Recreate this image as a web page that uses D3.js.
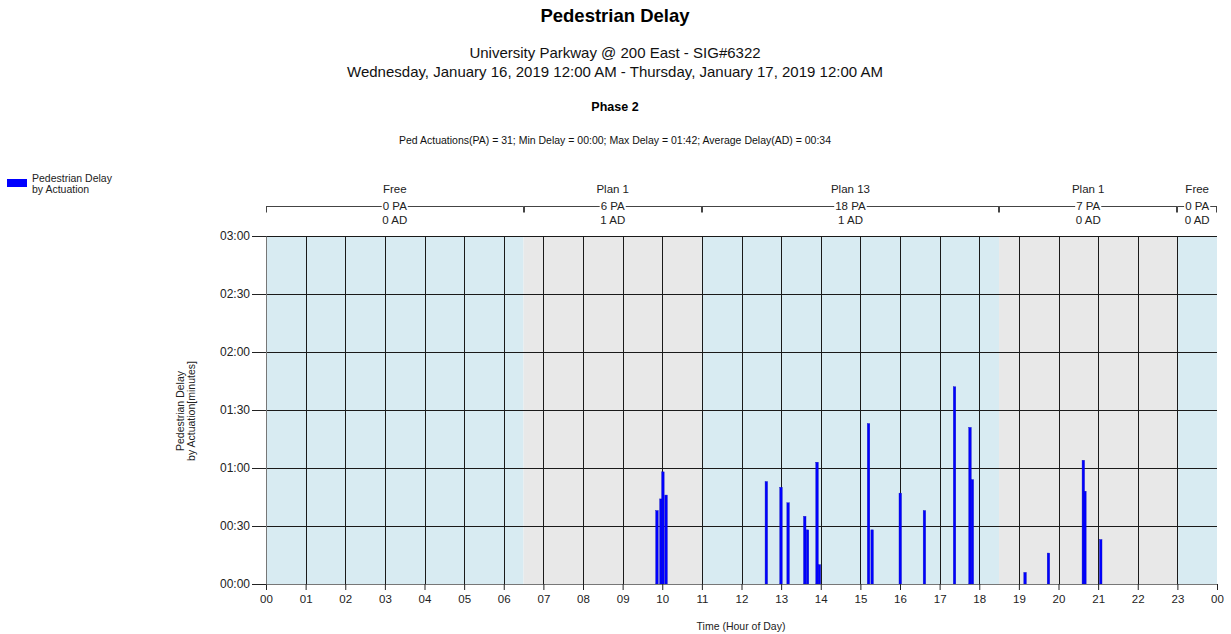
<!DOCTYPE html>
<html><head><meta charset="utf-8">
<script src="https://cdn.jsdelivr.net/npm/d3@7"></script>
<style>body{margin:0;background:#fff;}svg{display:block;font-family:"Liberation Sans",Arial,sans-serif;}</style>
</head><body><svg id="c" width="1231" height="634"></svg>
<script>
// Data
const hours = [9.86, 9.96, 10.01, 10.09, 12.62, 12.99, 13.17, 13.59, 13.66, 13.90, 13.96, 15.20, 15.29, 16.00, 16.61, 17.37, 17.76, 17.82, 19.15, 19.74, 20.62, 20.66, 21.06];
const delays = [38, 44, 58, 46, 53, 50, 42, 35, 28, 63, 10, 83, 28, 47, 38, 102, 81, 54, 6, 16, 64, 48, 23];
const planNames = ["Free", "Plan 1", "Plan 13", "Plan 1", "Free"];
const planStarts = [0, 6.5, 11, 18.5, 23];
const planEnds = [6.5, 11, 18.5, 23, 24];
const planPA = ["0 PA", "6 PA", "18 PA", "7 PA", "0 PA"];
const planAD = ["0 AD", "1 AD", "1 AD", "0 AD", "0 AD"];
const xTickLabels = ["00","01","02","03","04","05","06","07","08","09","10","11","12","13","14","15","16","17","18","19","20","21","22","23","00"];
const yTickLabels = ["00:00","00:30","01:00","01:30","02:00","02:30","03:00"];

const svg = d3.select("#c");
const L = 266, R = 1217, T = 236, B = 584;
const x = d3.scaleLinear().domain([0, 24]).range([L, R]);
const y = d3.scaleLinear().domain([0, 180]).range([B, T]);
const bandColors = ["#d8ebf2", "#e8e8e8"];

// Titles
svg.append("text").attr("x", 615).attr("y", 22).attr("text-anchor", "middle").attr("font-size", 18.5).attr("font-weight", "bold").text("Pedestrian Delay");
svg.append("text").attr("x", 615).attr("y", 58).attr("text-anchor", "middle").attr("font-size", 15).attr("fill", "#111").text("University Parkway @ 200 East - SIG#6322");
svg.append("text").attr("x", 615).attr("y", 77).attr("text-anchor", "middle").attr("font-size", 15).attr("fill", "#111").text("Wednesday, January 16, 2019 12:00 AM - Thursday, January 17, 2019 12:00 AM");
svg.append("text").attr("x", 615).attr("y", 111).attr("text-anchor", "middle").attr("font-size", 12.5).attr("font-weight", "bold").text("Phase 2");
svg.append("text").attr("x", 615).attr("y", 144).attr("text-anchor", "middle").attr("font-size", 10.5).attr("fill", "#111").text("Ped Actuations(PA) = 31; Min Delay = 00:00; Max Delay = 01:42; Average Delay(AD) = 00:34");

// Legend
svg.append("rect").attr("x", 7).attr("y", 179).attr("width", 20).attr("height", 8).attr("fill", "#0000ff");
svg.append("text").attr("x", 32).attr("y", 182).attr("font-size", 10.5).attr("fill", "#222").text("Pedestrian Delay");
svg.append("text").attr("x", 32).attr("y", 193).attr("font-size", 10.5).attr("fill", "#222").text("by Actuation");

// Plan bands
planStarts.forEach((s, i) => {
  svg.append("rect").attr("x", x(s)).attr("y", T).attr("width", x(planEnds[i]) - x(s)).attr("height", B - T)
    .attr("fill", bandColors[i % 2]);
});

// Grid
const g = svg.append("g").attr("shape-rendering", "crispEdges");
d3.range(1, 24).forEach(h => {
  g.append("line").attr("x1", Math.round(x(h)) + 0.5).attr("x2", Math.round(x(h)) + 0.5).attr("y1", T).attr("y2", B).attr("stroke", "#1a1a1a");
});
d3.range(30, 181, 30).forEach(v => {
  g.append("line").attr("x1", L).attr("x2", R).attr("y1", Math.round(y(v)) + 0.5).attr("y2", Math.round(y(v)) + 0.5).attr("stroke", "#1a1a1a");
});

// Bars
svg.append("g").selectAll("rect").data(hours).join("rect")
  .attr("x", d => x(d) - 1).attr("width", 2.5)
  .attr("y", (d, i) => y(delays[i])).attr("height", (d, i) => B - y(delays[i]))
  .attr("fill", "#0000ff").attr("stroke", "#1010c0").attr("stroke-width", 0.4);

// Axes
const xAxis = d3.axisBottom(x).tickValues(d3.range(0, 25)).tickFormat((d, i) => xTickLabels[i]).tickSize(6).tickSizeOuter(0);
const xg = svg.append("g").attr("transform", `translate(0,${B})`).call(xAxis);
xg.select(".domain").attr("stroke", "#777");
xg.selectAll(".tick line").attr("stroke", "#222");
xg.selectAll("text").attr("font-size", 11.5).attr("fill", "#222").attr("font-family", "Liberation Sans, Arial, sans-serif").attr("dy", "0.85em");

const yAxis = d3.axisLeft(y).tickValues(d3.range(0, 181, 30)).tickFormat((d, i) => yTickLabels[i]).tickSize(14).tickSizeOuter(0);
const yg = svg.append("g").attr("transform", `translate(${L},0)`).call(yAxis);
yg.select(".domain").attr("stroke", "#777");
yg.selectAll(".tick line").attr("stroke", "#222");
yg.selectAll("text").attr("font-size", 12).attr("fill", "#222").attr("font-family", "Liberation Sans, Arial, sans-serif").attr("x", -16);

// Axis titles
svg.append("text").attr("transform", "translate(184,411) rotate(-90)").attr("text-anchor", "middle").attr("font-size", 10.5).attr("fill", "#222").text("Pedestrian Delay");
svg.append("text").attr("transform", "translate(195,411) rotate(-90)").attr("text-anchor", "middle").attr("font-size", 10.5).attr("fill", "#222").text("by Actuation[minutes]");
svg.append("text").attr("x", 741).attr("y", 630).attr("text-anchor", "middle").attr("font-size", 10.5).attr("fill", "#222").text("Time (Hour of Day)");

// Plan annotations
const pg = svg.append("g");
const lineY = 206.5;
planStarts.forEach((s, i) => {
  const x0 = x(s), x1 = x(planEnds[i]), cx = (x0 + x1) / 2;
  pg.append("text").attr("x", cx).attr("y", 193).attr("text-anchor", "middle").attr("font-size", 11.5).attr("fill", "#222").text(planNames[i]);
  const t = pg.append("text").attr("x", cx).attr("y", 210).attr("text-anchor", "middle").attr("font-size", 11.5).attr("fill", "#222").text(planPA[i]);
  const w = t.node().getComputedTextLength();
  pg.append("text").attr("x", cx).attr("y", 224).attr("text-anchor", "middle").attr("font-size", 11.5).attr("fill", "#222").text(planAD[i]);
  pg.append("line").attr("x1", x0).attr("x2", cx - w / 2 - 1).attr("y1", lineY).attr("y2", lineY).attr("stroke", "#444");
  pg.append("line").attr("x1", cx + w / 2 + 1).attr("x2", x1).attr("y1", lineY).attr("y2", lineY).attr("stroke", "#444");
  pg.append("line").attr("x1", Math.round(x0) + 0.5).attr("x2", Math.round(x0) + 0.5).attr("y1", lineY).attr("y2", lineY + 6).attr("stroke", "#444");
  pg.append("line").attr("x1", Math.round(x1) - 0.5).attr("x2", Math.round(x1) - 0.5).attr("y1", lineY).attr("y2", lineY + 6).attr("stroke", "#444");
});
</script></body></html>
